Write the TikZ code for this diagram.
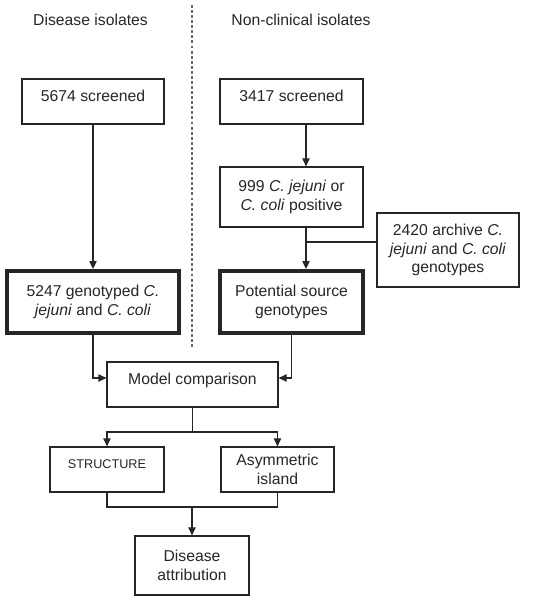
\documentclass[tikz,border=0pt]{standalone}
\usepackage{fontspec}
\setmainfont{Liberation Sans}
\usepackage{tikz}
\usetikzlibrary{arrows.meta}

\begin{document}
\begin{tikzpicture}[x=0.75pt,y=0.75pt,yscale=-1,xscale=1,
    font=\fontsize{11.8}{14}\selectfont,
    box/.style={draw=black!85,line width=0.9pt,align=center,text=black!85,inner sep=2pt},
    heavy/.style={box,line width=3pt},
    oneline/.style={text depth=8.5pt},
    arr/.style={draw=black!85,line width=0.9pt,-{Triangle[length=6pt,width=5.5pt]}},
    link/.style={draw=black!85,line width=0.9pt}]
        \useasboundingbox (0,0) rectangle (548,600);
        \coordinate (dtop) at (192,5);
        \coordinate (dbot) at (192,347);
        \draw [black!60,line width=1.2pt,dash pattern=on 2.2pt off 1.6pt] (dtop) -- (dbot);
        \node [text=black!85] (hd) at (90.5,20) {Disease isolates};
        \node [text=black!85] (hn) at (301,20) {Non-clinical isolates};
        \node [box,oneline,minimum width=106.5pt,minimum height=33.75pt] (s1) at (93,101.5) {5674 screened};
        \node [box,oneline,minimum width=107.25pt,minimum height=33.75pt] (s2) at (291.5,101.5) {3417 screened};
        \node [box,minimum width=107.25pt,minimum height=45pt] (pos) at (291.5,197) {999 \textit{C. jejuni} or\\\textit{C. coli} positive};
        \node [box,minimum width=106.5pt,minimum height=55.5pt] (arch) at (448,250) {2420 archive \textit{C.}\\\textit{jejuni} and \textit{C. coli}\\genotypes};
        \node [heavy,minimum width=129pt,minimum height=46.5pt] (g1) at (93,302) {5247 genotyped \textit{C.}\\\textit{jejuni} and \textit{C. coli}};
        \node [heavy,minimum width=107.25pt,minimum height=46.5pt] (p1) at (291.5,302) {Potential source\\genotypes};
        \node [box,oneline,minimum width=128.25pt,minimum height=33.75pt] (mc) at (192.5,384.5) {Model comparison};
        \node [box,oneline,minimum width=85.5pt,minimum height=33.75pt,font=\fontsize{9.5}{11}\selectfont] (st) at (107,469.5) {STRUCTURE};
        \node [box,minimum width=84.75pt,minimum height=33.75pt] (as) at (277.5,469.5) {Asymmetric\\island};
        \node [box,minimum width=85.5pt,minimum height=44.25pt] (da) at (192,565.5) {Disease\\attribution};
        \coordinate (spine) at (306,0);
        \coordinate (join) at (306,242);
        \coordinate (mcin) at (0,378);
        \coordinate (split) at (192.5,432);
        \coordinate (merge) at (192,507);
        \draw [arr] (s1) -- (g1);
        \draw [arr] (s2.south -| spine) -- (pos.north -| spine);
        \draw [arr] (pos.south -| spine) -- (p1.north -| spine);
        \draw [link] (arch.west |- join) -- (join);
        \draw [arr] (g1.south) |- (mc.west |- mcin);
        \draw [arr] (p1.south) |- (mc.east |- mcin);
        \draw [link] (mc.south) -- (split);
        \draw [arr] (split) -| (st.north);
        \draw [arr] (split) -| (as.north);
        \draw [link] (st.south) |- (merge);
        \draw [link] (as.south) |- (merge);
        \draw [arr] (merge) -- (da.north);
    \end{tikzpicture}
\end{document}
